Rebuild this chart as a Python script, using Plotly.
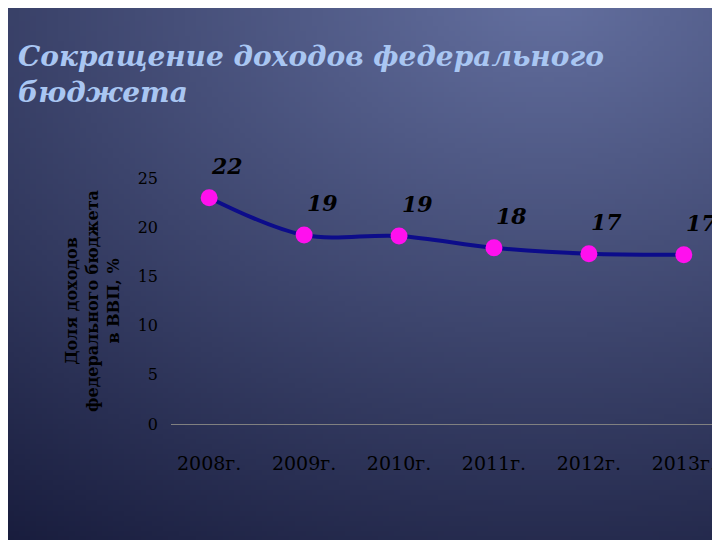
import plotly.graph_objects as go
import numpy as np, zlib, struct, base64

years = ["2008г.", "2009г.", "2010г.", "2011г.", "2012г.", "2013г."]
values = [23.0, 19.2, 19.1, 17.9, 17.3, 17.2]
labels = ["22", "19", "19", "18", "17", "17"]
yticks = [0, 5, 10, 15, 20, 25]

W, H = 180, 135
yy, xx = np.mgrid[0:H, 0:W]
cx, cy = W * 0.6, H * 0.05
d = np.sqrt(((xx - cx) / W) ** 2 + ((yy - cy) / H) ** 2)
t = np.clip(d / 1.0, 0, 1)
c1 = np.array([100, 112, 160]); c2 = np.array([22, 26, 58])
img = (c1[None, None, :] * (1 - t[..., None]) + c2[None, None, :] * t[..., None]).astype(np.uint8)
raw = b"".join(b"\x00" + img[r].tobytes() for r in range(H))
def chunk(tag, data):
    return struct.pack(">I", len(data)) + tag + data + struct.pack(">I", zlib.crc32(tag + data) & 0xffffffff)
png = b"\x89PNG\r\n\x1a\n" + chunk(b"IHDR", struct.pack(">IIBBBBB", W, H, 8, 2, 0, 0, 0)) + chunk(b"IDAT", zlib.compress(raw)) + chunk(b"IEND", b"")
uri = "data:image/png;base64," + base64.b64encode(png).decode()

fig = go.Figure()
fig.add_trace(go.Scatter(
    x=years, y=values, mode="lines+markers",
    line=dict(color="#0c0c8a", width=4, shape="spline"),
    marker=dict(color="#ff10ee", size=17),
    cliponaxis=False,
))
for xv, yv, lab in zip(years, values, labels):
    fig.add_annotation(x=xv, y=yv, text="<b><i>" + lab + "</i></b>", showarrow=False,
                       yshift=32, xshift=18,
                       font=dict(family="DejaVu Serif", size=22, color="black"))
fig.update_layout(
    width=720, height=540, margin=dict(l=163, r=6, t=170, b=124),
    paper_bgcolor="#2a3060", plot_bgcolor="rgba(0,0,0,0)",
    showlegend=False,
    images=[dict(source=uri, xref="paper", yref="paper", x=-0.4, y=1.9,
                 sizex=1.8, sizey=2.8, sizing="stretch", layer="below",
                 xanchor="left", yanchor="top")],
    xaxis=dict(showgrid=False, showline=True, linecolor="#808080", linewidth=1,
               tickfont=dict(family="DejaVu Serif", size=19, color="black"), ticks="",
               ticklabelstandoff=22),
    yaxis=dict(range=[0, 25], tickvals=yticks, showgrid=False, zeroline=False,
               showline=False, ticklabelstandoff=12,
               tickfont=dict(family="DejaVu Serif", size=16, color="black"),
               title=dict(text="<b>Доля доходов<br>федерального бюджета<br>в ВВП, %</b>",
                          font=dict(family="DejaVu Serif", size=16, color="black"), standoff=14)),
)
fig.add_annotation(text="<b><i>Сокращение доходов федерального<br>бюджета</i></b>",
                   xref="paper", yref="paper", x=-155/551, y=1 + 140/246,
                   xanchor="left", yanchor="top", align="left", showarrow=False,
                   font=dict(family="DejaVu Serif", size=28, color="#a9c6f2"))
fig.write_html("out.html")
